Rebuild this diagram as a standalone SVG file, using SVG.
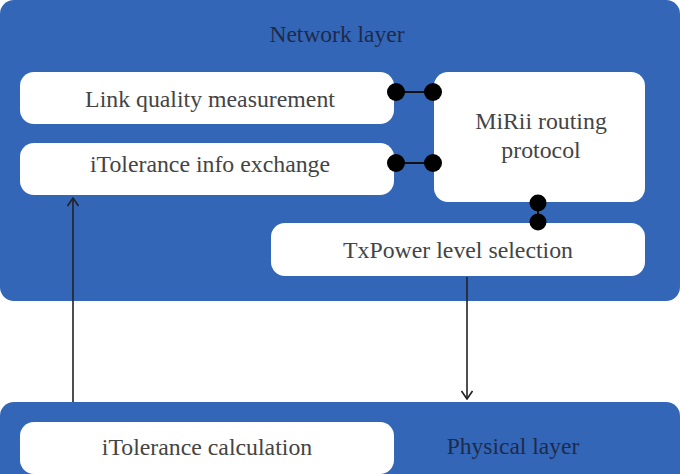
<svg xmlns="http://www.w3.org/2000/svg" width="680" height="474" viewBox="0 0 680 474">
<defs>
<style>
.layer{fill:#3366b7}
.box{fill:#ffffff}
.t{font-family:"Liberation Serif","Times New Roman",serif;font-size:23.8px;fill:#444444;text-anchor:middle}
.lt{font-family:"Liberation Serif","Times New Roman",serif;font-size:23.5px;fill:#1e2a4c;text-anchor:middle}
.ln{stroke:#111;stroke-width:2;fill:none}
.dot{fill:#000}
.ar{stroke:#222;stroke-width:1.6;fill:none}
</style>
<marker id="ah" viewBox="0 0 12 12" refX="11" refY="6" markerWidth="12" markerHeight="12" markerUnits="userSpaceOnUse" orient="auto">
<path d="M3,0.5 L11,6 L3,11.5" fill="none" stroke="#222" stroke-width="1.6"/>
</marker>
</defs>
<g id="network-layer">
<rect class="layer" x="0" y="0" width="680" height="301" rx="14"/>
<text class="lt" x="337" y="42">Network layer</text>
</g>
<g id="physical-layer">
<rect class="layer" x="0" y="402" width="680" height="90" rx="14"/>
<text class="lt" x="513" y="454">Physical layer</text>
</g>
<g id="link-quality">
<rect class="box" x="20" y="72" width="374" height="52" rx="14"/>
<text class="t" x="210" y="107">Link quality measurement</text>
</g>
<g id="itolerance-info">
<rect class="box" x="20" y="143" width="374" height="52" rx="14"/>
<text class="t" x="210" y="172">iTolerance info exchange</text>
</g>
<g id="mirii">
<rect class="box" x="434" y="72" width="211" height="130" rx="14"/>
<text class="t" x="541" y="129">MiRii routing</text>
<text class="t" x="541" y="158">protocol</text>
</g>
<g id="txpower">
<rect class="box" x="271" y="223" width="374" height="53" rx="14"/>
<text class="t" x="458" y="258">TxPower level selection</text>
</g>
<g id="itolerance-calc">
<rect class="box" x="20" y="422" width="374" height="52" rx="14"/>
<text class="t" x="207" y="455">iTolerance calculation</text>
</g>
<g id="connectors">
<line class="ln" x1="396" y1="92" x2="433" y2="92"/>
<circle class="dot" cx="396" cy="92" r="9"/>
<circle class="dot" cx="433" cy="92" r="9"/>
<line class="ln" x1="396" y1="163" x2="433" y2="163"/>
<circle class="dot" cx="396" cy="163" r="9"/>
<circle class="dot" cx="433" cy="163" r="9"/>
<line class="ln" x1="538" y1="203" x2="538" y2="222"/>
<circle class="dot" cx="538" cy="203" r="8.5"/>
<circle class="dot" cx="538" cy="222" r="8.5"/>
<line class="ar" x1="73" y1="402" x2="73" y2="198" marker-end="url(#ah)"/>
<line class="ar" x1="467" y1="277" x2="467" y2="399" marker-end="url(#ah)"/>
</g>
</svg>
